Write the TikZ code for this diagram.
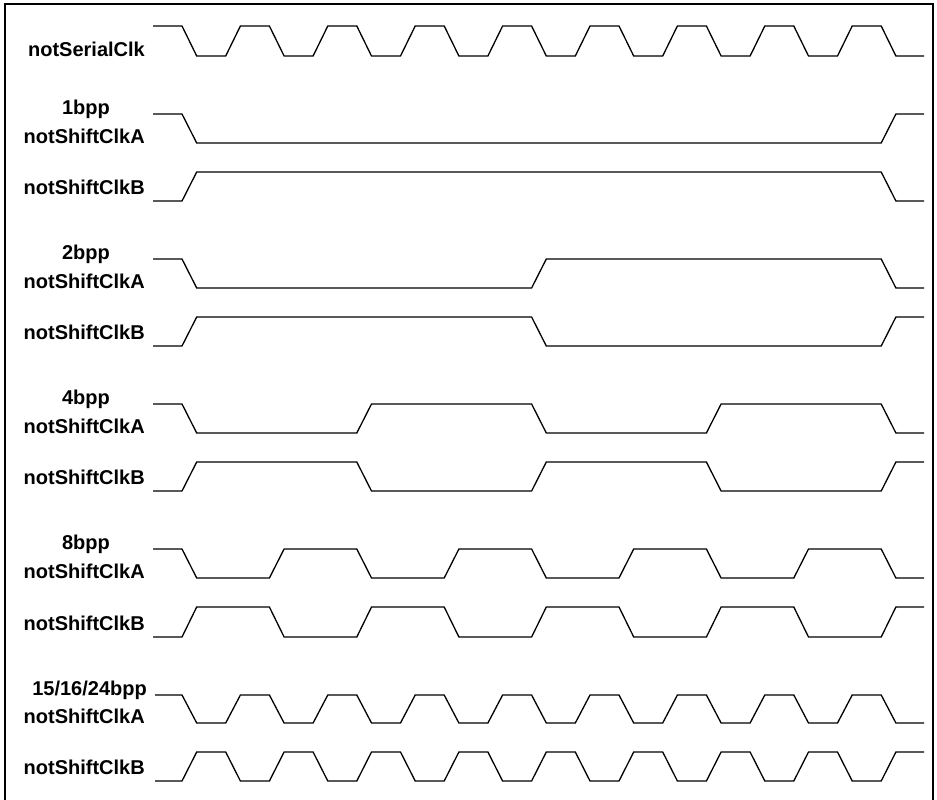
\documentclass[tikz,border=0pt]{standalone}
\usepackage{fontspec}
\setmainfont{Liberation Sans}
\begin{document}
\begin{tikzpicture}[x=1pt,y=-1pt,
  sig/.style={line width=1.3pt,line join=miter},
  frame/.style={line width=1.6pt},
  lab/.style={font=\fontsize{20}{24}\selectfont\bfseries,inner sep=0pt}]
\useasboundingbox (0,0) rectangle (937,800);
\def\tz{182}\def\tp{43.7}\def\tw{14.7}
% #1 start x, #2 start-level y, #3 other-level y, #4 toggle indices, #5 final y
\newcommand\sigwave[5]{%
  \draw[sig] (#1,#2) foreach \k [count=\i] in {#4} {
    -- ({\tz+\tp*\k}, {#3+(#2-#3)*mod(\i,2)})
    -- ({\tz+\tp*\k+\tw}, {#2+(#3-#2)*mod(\i,2)}) } -- (924,#5);}
% frame
\draw[frame] (5,805) -- (5,4) -- (933,4) -- (933,805);
% clock
\node[lab,anchor=base east] (clk) at (145,57) {notSerialClk};
\sigwave{153}{26}{56}{0,...,16}{56}
% 1bpp
\node[lab,anchor=base] (b1) at (86,114) {1bpp};
\node[lab,anchor=base east] (b1a) at (145,143) {notShiftClkA};
\node[lab,anchor=base east] (b1b) at (145,194) {notShiftClkB};
\sigwave{153}{114}{143}{0,16}{114}
\sigwave{153}{201}{172}{0,16}{201}
% 2bpp
\node[lab,anchor=base] (b2) at (86,259) {2bpp};
\node[lab,anchor=base east] (b2a) at (145,288) {notShiftClkA};
\node[lab,anchor=base east] (b2b) at (145,339) {notShiftClkB};
\sigwave{153}{259}{288}{0,8,16}{288}
\sigwave{153}{346}{317}{0,8,16}{317}
% 4bpp
\node[lab,anchor=base] (b4) at (86,404) {4bpp};
\node[lab,anchor=base east] (b4a) at (145,433) {notShiftClkA};
\node[lab,anchor=base east] (b4b) at (145,484) {notShiftClkB};
\sigwave{153}{404}{433}{0,4,8,12,16}{433}
\sigwave{153}{491}{462}{0,4,8,12,16}{462}
% 8bpp
\node[lab,anchor=base] (b8) at (86,549) {8bpp};
\node[lab,anchor=base east] (b8a) at (145,578) {notShiftClkA};
\node[lab,anchor=base east] (b8b) at (145,630) {notShiftClkB};
\sigwave{153}{549}{578}{0,2,...,16}{578}
\sigwave{153}{637}{607}{0,2,...,16}{607}
% 15/16/24bpp
\node[lab,anchor=base east] (b24) at (147,695) {15/16/24bpp};
\node[lab,anchor=base east] (b24a) at (145,723) {notShiftClkA};
\node[lab,anchor=base east] (b24b) at (145,774) {notShiftClkB};
\sigwave{155}{695}{723}{0,...,16}{723}
\sigwave{155}{781}{752}{0,...,16}{752}
\end{tikzpicture}
\end{document}
